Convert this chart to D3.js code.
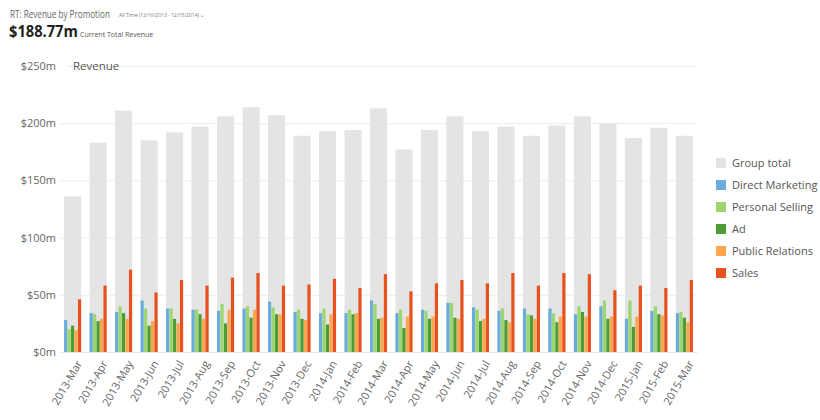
<!DOCTYPE html>
<html>
<head>
<meta charset="utf-8">
<script src="https://cdn.jsdelivr.net/npm/d3@7"></script>
<style>
  body { margin: 0; background: #fff; font-family: "Open Sans", sans-serif; }
  svg text { font-family: "Open Sans", sans-serif; }
</style>
</head>
<body>
<div id="container"></div>
<script>
/* DATA */
const months = ["2013-Mar","2013-Apr","2013-May","2013-Jun","2013-Jul","2013-Aug","2013-Sep","2013-Oct","2013-Nov","2013-Dec",
  "2014-Jan","2014-Feb","2014-Mar","2014-Apr","2014-May","2014-Jun","2014-Jul","2014-Aug","2014-Sep","2014-Oct","2014-Nov","2014-Dec",
  "2015-Jan","2015-Feb","2015-Mar"];
const groupTotal =      [136,183,211,185,192,197,206,214,207,189,193,194,213,177,194,206,193,197,189,198,206,200,187,196,189];
const directMarketing = [28,34,35,45,38,37,36,38,44,35,34,34,45,34,37,43,39,36,38,38,33,40,29,36,34];
const personalSelling = [20,33,40,38,38,37,42,40,39,37,38,37,42,37,36,43,37,38,33,34,40,45,45,40,35];
const ad =              [23,27,34,23,29,33,25,30,33,29,24,33,29,21,29,30,27,28,32,26,35,29,22,33,30];
const publicRelations = [19,29,29,27,25,29,37,37,33,28,33,34,30,31,31,29,29,26,29,31,31,31,31,32,26];
const sales =           [46,58,72,52,63,58,65,69,58,59,64,56,68,53,60,63,60,69,58,69,68,54,58,56,63];

const seriesNames = ["Direct Marketing","Personal Selling","Ad","Public Relations","Sales"];
const seriesValues = [directMarketing, personalSelling, ad, publicRelations, sales];
const legendNames = ["Group total"].concat(seriesNames);
const yTicks = [0, 50, 100, 150, 200, 250];

/* CONSTANTS */
const width = 820, height = 420;
const margin = {top: 66, bottom: 68, left: 60, right: 123};
const colors = ["#e3e4e3","#6badda","#9dd66f","#4c9d33","#fca74e","#e8511d"];

const svg = d3.select("#container").append("svg")
  .attr("width", width)
  .attr("height", height);

/* SCALES */
const xScale = d3.scaleBand()
  .domain(months)
  .range([margin.left, width - margin.right])
  .paddingInner(0.33)
  .paddingOuter(0.16);

const subScale = d3.scaleBand()
  .domain(seriesNames)
  .range([0, xScale.bandwidth()])
  .paddingInner(0.08);

const yScale = d3.scaleLinear()
  .domain([0, 250])
  .range([height - margin.bottom, margin.top]);

const colorScale = d3.scaleOrdinal().domain(legendNames).range(colors);

/* HEADER */
// the reference font is narrower, so squeeze each piece to its width there
function headerText(x, y, w, size, fill, weight, str) {
  const t = svg.append("text")
    .attr("font-size", size).attr("fill", fill).attr("font-weight", weight)
    .text(str);
  const k = Math.min(1, w / t.node().getComputedTextLength());
  t.attr("transform", `translate(${x},${y}) scale(${k},1)`);
}
headerText(10, 18, 100, 10.5, "#666", "normal", "RT: Revenue by Promotion");
headerText(119, 17, 86, 5.5, "#777", "normal", "All Time (12/16/2013 - 12/15/2014) \u2304");
headerText(9, 37, 69, 15.5, "#222", "bold", "$188.77m");
headerText(80, 37, 75, 7, "#555", "normal", "Current Total Revenue");

/* AXES */
const yAxis = d3.axisLeft(yScale)
  .tickValues(yTicks)
  .tickSize(-(width - margin.right - margin.left))
  .tickFormat(d => "$" + d + "m");

const yG = svg.append("g")
  .attr("transform", `translate(${margin.left},0)`)
  .call(yAxis);
yG.select(".domain").remove();
yG.selectAll(".tick line").attr("stroke", "#ececec");
yG.selectAll(".tick text").attr("x", -4).attr("font-size", 11).attr("fill", "#666");
yG.selectAll(".tick").filter(d => d === 250).select("line").attr("x1", 8).attr("x2", width - margin.right - margin.left);

svg.append("text").attr("x", 73).attr("y", yScale(250) + 4)
  .attr("font-size", 11.5).attr("fill", "#555")
  .text("Revenue");

/* BARS */
const groups = svg.append("g").selectAll(".group")
  .data(months)
  .join("g")
  .attr("class", "group")
  .attr("transform", d => `translate(${xScale(d)},0)`);

groups.append("rect")
  .attr("x", 0)
  .attr("width", xScale.bandwidth())
  .attr("y", (d, i) => yScale(groupTotal[i]))
  .attr("height", (d, i) => yScale(0) - yScale(groupTotal[i]))
  .attr("fill", colorScale("Group total"));

groups.selectAll(".sub")
  .data((d, i) => seriesNames.map((s, j) => ({s, v: seriesValues[j][i]})))
  .join("rect")
  .attr("class", "sub")
  .attr("x", d => subScale(d.s))
  .attr("width", subScale.bandwidth())
  .attr("y", d => yScale(d.v))
  .attr("height", d => yScale(0) - yScale(d.v))
  .attr("fill", d => colorScale(d.s));

const xAxis = d3.axisBottom(xScale).tickSize(0);
const xG = svg.append("g")
  .attr("transform", `translate(0,${yScale(0)})`)
  .call(xAxis);
xG.select(".domain").attr("stroke", "#e6e6e6");
xG.selectAll(".tick text")
  .attr("font-size", 11).attr("fill", "#666")
  .attr("text-anchor", "end")
  .attr("dy", "0.35em")
  .attr("transform", "translate(4,8) rotate(-60)");

/* LEGEND */
const legend = svg.append("g").selectAll(".leg")
  .data(legendNames)
  .join("g")
  .attr("class", "leg")
  .attr("transform", (d, i) => `translate(716,${163 + i * 22})`);
legend.append("rect")
  .attr("y", -5).attr("width", 10).attr("height", 10)
  .attr("fill", d => colorScale(d));
legend.append("text")
  .attr("x", 16).attr("dy", "0.35em")
  .attr("font-size", 11).attr("fill", "#555")
  .text(d => d);
</script>
</body>
</html>
